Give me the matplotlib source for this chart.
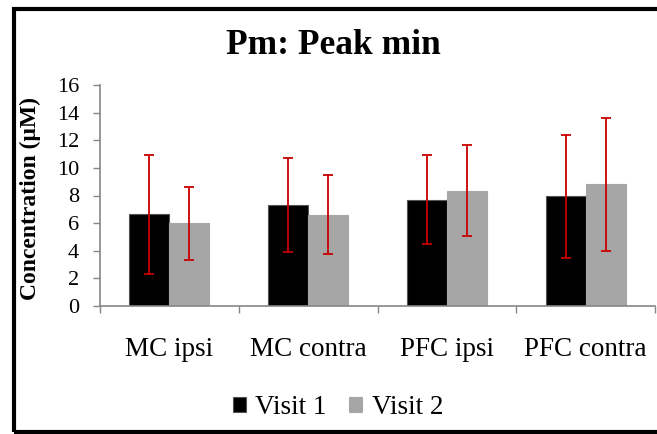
import matplotlib
matplotlib.use("Agg")
import matplotlib.pyplot as plt
import numpy as np
from matplotlib.patches import Rectangle

categories = ["MC ipsi", "MC contra", "PFC ipsi", "PFC contra"]
visit1 = [6.65, 7.3, 7.7, 7.95]
visit1_err = [4.3, 3.4, 3.2, 4.45]
visit2 = [6.0, 6.6, 8.35, 8.8]
visit2_err = [2.65, 2.85, 3.3, 4.8]
yticks = [0, 2, 4, 6, 8, 10, 12, 14, 16]

plt.rcParams["font.family"] = ["Liberation Serif", "DejaVu Serif"]

W, H = 657, 434
fig = plt.figure(figsize=(W / 100, H / 100), dpi=100)
ax = fig.add_axes([100 / W, 1 - 306 / H, 555 / W, 221 / H])

x = np.arange(len(categories))
w = 0.288
spine_c = "#868686"
err_c = "#c80000"
ax.bar(x - w / 2, visit1, w, color="black", edgecolor="#555555", linewidth=0.8,
       label="Visit 1", zorder=2)
ax.bar(x + w / 2, visit2, w, color="#a6a6a6", edgecolor="#a6a6a6", linewidth=0.8,
       label="Visit 2", zorder=2)
ax.errorbar(x - w / 2, visit1, yerr=visit1_err, fmt="none", ecolor=err_c,
            elinewidth=1.3, capsize=3.8, capthick=1.3, zorder=3)
ax.errorbar(x + w / 2, visit2, yerr=visit2_err, fmt="none", ecolor=err_c,
            elinewidth=1.3, capsize=3.8, capthick=1.3, zorder=3)

ax.set_xlim(-0.5, len(categories) - 0.5)
ax.set_ylim(0, 16)
ax.set_yticks(yticks)
ax.set_yticklabels([str(t) for t in yticks], fontsize=16)
ax.set_xticks(np.arange(len(categories) + 1) - 0.5)
ax.set_xticklabels([])
ax.set_xticks(x, minor=True)
ax.set_xticklabels(categories, minor=True, fontsize=19.5)
ax.tick_params(axis="x", which="major", length=5, color=spine_c, width=1)
ax.tick_params(axis="x", which="minor", length=0, pad=22)
ax.tick_params(axis="y", length=5, color=spine_c, width=1, pad=10)

for side in ("top", "right"):
    ax.spines[side].set_visible(False)
for side in ("left", "bottom"):
    ax.spines[side].set_color(spine_c)
    ax.spines[side].set_linewidth(1.2)

fig.text(30 / W, 1 - 199 / H, "Concentration (\u03bcM)", rotation=90,
         ha="center", va="center", fontsize=17, fontweight="bold")
fig.text(333 / W, 1 - 45 / H, "Pm: Peak min", ha="center", va="center",
         fontsize=25.5, fontweight="bold")

fig.legend(loc="center", bbox_to_anchor=(338 / W, 1 - 408 / H), ncol=2,
           frameon=False, fontsize=19.5, handlelength=0.48, handleheight=0.48,
           handletextpad=0.35, columnspacing=0.85, borderpad=0, borderaxespad=0)

fig.patches.append(Rectangle((14 / W, 2 / H), 660 / W, 423 / H,
                             transform=fig.transFigure, fill=False,
                             edgecolor="black", linewidth=3))

fig.savefig("out.png", dpi=100)
